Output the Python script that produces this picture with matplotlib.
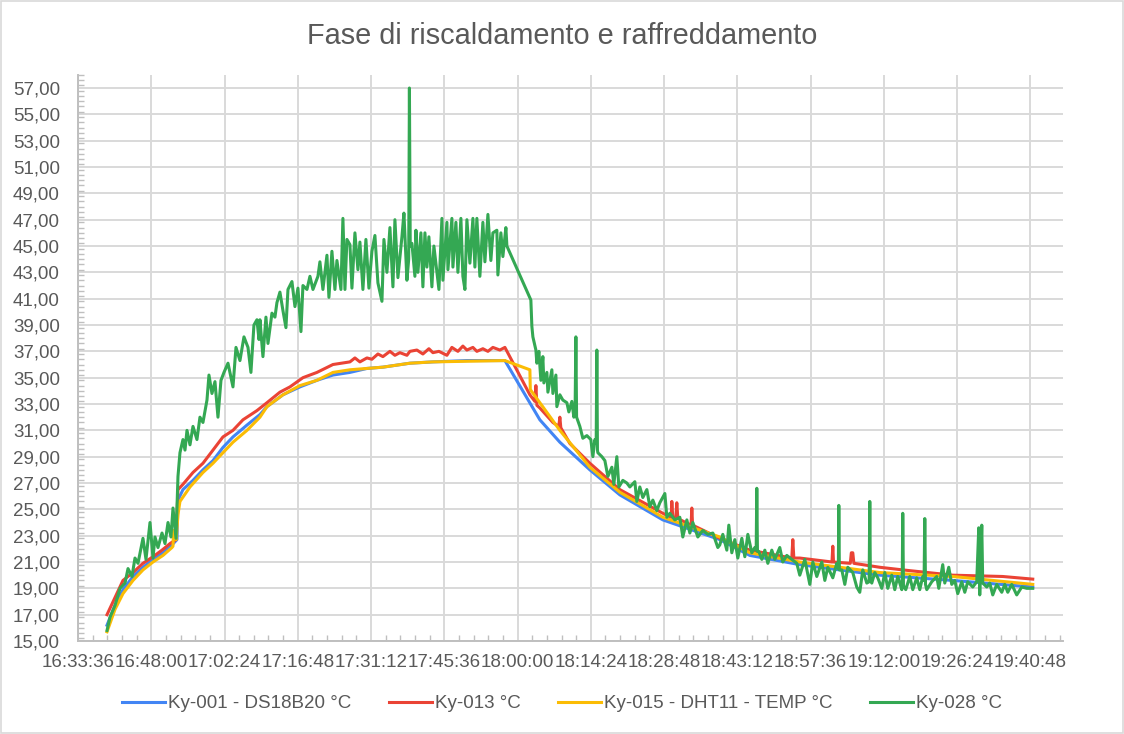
#Line chart of heating and cooling phase for four temperature sensors.
import matplotlib
matplotlib.use("Agg")
import matplotlib.pyplot as plt
from matplotlib.ticker import MultipleLocator, FuncFormatter
from matplotlib.patches import Rectangle

plt.rcParams['font.family'] = ['Liberation Sans', 'DejaVu Sans']

#Start of the x axis (16:33:36) in seconds after midnight.
START_S = 16 * 3600 + 33 * 60 + 36

#Series names.
names = ["Ky-001 - DS18B20 °C", "Ky-013 °C", "Ky-015 - DHT11 - TEMP °C", "Ky-028 °C"]
colors = ["#4285F4", "#EA4335", "#FBBC04", "#34A853"]

#Times are minutes after 16:33:36, values are °C.
t_blue = [5.70, 7.27, 8.84, 10.81, 12.77, 14.74, 16.70, 18.47, 19.45, 19.65, 20.63, 22.60,
          24.56, 26.53, 28.49, 30.46, 33.21, 35.76, 37.14, 40.28, 43.62, 46.96, 50.11, 53.45,
          56.79, 59.93, 65.24, 69.76, 76.44, 83.91, 90.78, 94.71, 100.61, 106.50, 114.95,
          126.15, 132.05, 141.87, 157.59, 171.94, 187.66]
v_blue = [16.2, 17.7, 18.9, 19.9, 20.6, 21.2, 21.7, 22.3, 22.7, 25.7, 26.5, 27.2,
          28.0, 28.7, 29.7, 30.5, 31.4, 32.2, 32.8, 33.7, 34.3, 34.8, 35.2, 35.4,
          35.7, 35.8, 36.1, 36.2, 36.3, 36.3, 31.8, 30.1, 28.0, 26.1, 24.2,
          22.7, 21.5, 20.8, 20.0, 19.6, 19.1]

t_red = [5.70, 7.27, 8.84, 10.81, 12.77, 14.74, 16.51, 18.08, 19.26, 19.65, 20.63, 22.60,
         24.56, 26.53, 28.49, 30.46, 32.42, 35.17, 37.14, 39.69, 41.66, 44.21, 46.96, 50.11,
         53.45, 54.43, 55.41, 56.79, 57.77, 58.95, 59.93, 61.31, 62.29, 63.27, 64.65, 65.24,
         66.61, 67.79, 68.97, 69.76, 70.94, 72.51, 73.49, 74.67, 75.65, 76.44, 77.62, 78.40,
         79.58, 80.57, 81.55, 82.92, 83.91,
         88.82, 89.80, 90.00, 90.20, 90.78, 93.34, 94.50, 94.71, 94.90, 96.68, 100.61, 106.50,
         114.95, 116.60, 116.72, 116.90, 117.50, 117.70, 117.90, 120.50, 120.65, 120.80,
         126.15, 132.05, 140.30, 140.50, 140.70, 141.87, 148.20, 148.36, 148.50, 151.80,
         152.00, 152.29, 152.50, 157.59, 162.11, 171.94, 181.76, 187.66]
v_red = [17.0, 18.3, 19.6, 20.2, 20.9, 21.4, 21.9, 22.4, 22.7, 26.5, 26.9, 27.8,
         28.5, 29.5, 30.5, 31.0, 31.8, 32.5, 33.1, 33.9, 34.3, 35.0, 35.4, 36.0,
         36.2, 36.5, 36.2, 36.5, 36.4, 36.8, 36.6, 37.0, 36.7, 36.9, 36.7, 37.0,
         37.1, 36.8, 37.2, 36.9, 37.0, 36.7, 37.3, 37.0, 37.4, 37.1, 37.3, 37.0,
         37.2, 37.0, 37.3, 37.1, 37.3,
         33.7, 33.2, 34.4, 32.9, 32.7, 31.6, 31.3, 32.0, 31.2, 30.0, 28.5, 26.5,
         24.7, 24.4, 25.6, 24.4, 24.4, 25.5, 24.3, 23.8, 25.1, 23.8,
         22.8, 21.9, 21.3, 22.7, 21.3, 21.3, 21.0, 22.2, 21.0, 20.9,
         21.7, 21.7, 20.9, 20.6, 20.4, 20.0, 19.9, 19.7]

t_yellow = [5.70, 7.27, 8.84, 10.81, 12.77, 14.74, 16.70, 18.47, 18.67, 18.80, 19.30, 19.65,
            20.04, 22.01, 24.56, 26.53, 28.49, 30.46, 33.21, 35.76, 37.14, 40.28, 43.62,
            46.96, 50.11, 53.45, 59.93, 65.24, 69.76, 83.91, 88.82, 88.90, 90.78, 94.71,
            100.61, 106.50, 114.95, 126.15, 132.05, 141.87, 157.59, 171.94, 187.66]
v_yellow = [15.7, 17.4, 18.6, 19.6, 20.4, 21.0, 21.5, 22.1, 22.2, 23.4, 22.7, 24.6,
            25.6, 26.7, 27.8, 28.5, 29.3, 30.1, 31.0, 32.0, 32.8, 33.7, 34.4,
            34.8, 35.4, 35.6, 35.8, 36.1, 36.2, 36.3, 35.6, 34.1, 33.1, 31.0,
            28.2, 26.3, 24.4, 22.9, 21.7, 21.0, 20.2, 19.9, 19.3]

t_green = [5.70, 6.29, 7.27, 8.25, 9.24, 9.83, 10.61, 11.20, 11.79, 12.77, 13.36, 14.15,
           14.74, 15.13, 15.72, 16.51, 17.10, 17.69, 18.27, 18.67, 19.26, 19.65, 20.04, 20.63,
           21.03, 21.42, 22.01, 22.60, 23.38, 23.97, 24.56, 25.35, 25.74, 26.33, 26.92, 27.51,
           28.10, 28.69, 29.48, 30.46, 31.05, 31.83, 32.62, 33.41, 33.99, 34.58, 35.17, 35.57,
           35.76, 36.35, 36.94, 37.34, 38.12, 38.71, 39.10, 39.69, 40.28, 40.87, 41.27, 42.05,
           42.64, 43.23, 43.82, 44.21, 45.00, 45.59, 46.18, 47.16, 47.55, 48.14, 48.93, 49.32,
           49.91, 50.50, 50.89, 51.68, 52.07, 52.47, 52.86, 53.45, 53.84, 54.43, 55.02, 55.41,
           56.00, 56.59, 57.18, 57.77, 58.36, 58.95, 59.74, 60.13, 60.72, 61.31, 61.90, 62.29,
           62.88, 63.67, 64.06, 64.65, 65.00, 65.14, 65.30, 65.63, 66.22, 66.42, 66.81, 67.40,
           67.79, 68.19, 68.58, 68.97, 69.56, 69.95, 70.54, 70.94, 71.53, 71.72, 72.51, 72.71,
           73.49, 73.69, 74.28, 74.67, 75.26, 75.65, 76.05, 76.44, 77.03, 77.62, 78.01, 78.40,
           78.99, 79.58, 79.98, 80.57, 81.15, 81.55, 82.33, 82.53, 83.12, 83.51, 84.10, 84.30,
           89.01, 89.21, 89.41, 90.00, 90.19, 90.59, 90.98, 91.37, 91.57, 92.16, 92.36, 93.14,
           93.34, 93.93, 94.12, 94.71, 95.30, 96.09, 96.48, 97.07, 97.46, 97.70, 97.86, 98.00,
           98.64, 99.23, 100.02, 100.80, 101.20, 101.59, 101.85, 101.98, 102.10, 102.18, 102.97,
           103.56, 104.15, 104.93, 105.32, 105.91, 106.31, 107.09, 107.88, 108.47, 109.45,
           109.84, 110.43, 111.02, 111.81, 112.40, 112.99, 113.77, 114.36, 115.35, 115.74,
           116.33, 117.31, 118.29, 118.88, 119.67, 120.26, 120.85, 121.83, 122.81, 123.80,
           124.78, 125.76, 126.15, 126.74, 127.53, 127.92, 128.51, 129.10, 129.69, 130.48,
           131.07, 131.66, 132.44, 133.03, 133.30, 133.42, 133.55, 133.82, 134.41, 135.00,
           135.59, 136.37, 136.96, 137.94, 138.53, 139.32, 140.30, 141.28, 141.87, 142.86,
           143.84, 144.43, 145.21, 146.20, 146.79, 147.38, 148.36, 149.14, 149.45, 149.54,
           149.65, 150.13, 150.72, 151.31, 152.29, 153.07, 153.66, 154.25, 155.04, 155.50,
           155.63, 155.75, 156.02, 156.61, 157.20, 157.99, 158.58, 159.17, 159.95, 160.54,
           161.13, 161.92, 162.00, 162.11, 162.25, 162.70, 163.49, 164.08, 164.86, 165.45,
           166.04, 166.30, 166.44, 166.58, 166.83, 167.81, 168.79, 169.19, 169.97, 170.37,
           171.15, 171.74, 172.33, 172.92, 173.71, 174.30, 174.89, 175.87, 176.65, 177.05,
           177.24, 177.64, 177.83, 178.62, 179.21, 179.80, 180.58, 181.57, 182.16, 182.75,
           183.53, 184.51, 185.50, 186.48, 187.66]
v_green = [15.8, 16.8, 17.7, 19.0, 19.4, 20.5, 19.9, 21.3, 20.9, 22.8, 21.2, 24.0,
           21.3, 22.9, 22.1, 23.2, 22.4, 24.0, 22.9, 25.1, 22.8, 27.5, 29.3, 30.3,
           29.5, 31.0, 29.9, 31.3, 30.3, 32.0, 31.6, 33.3, 35.2, 33.8, 34.7, 32.0,
           34.8, 35.4, 36.1, 34.3, 37.3, 36.3, 38.1, 37.3, 35.4, 39.0, 39.4, 37.9,
           39.4, 36.6, 39.6, 37.6, 39.9, 39.6, 40.7, 41.5, 40.1, 38.8, 41.7, 42.3,
           40.4, 41.8, 38.5, 42.0, 41.7, 42.7, 41.7, 42.7, 43.8, 41.7, 44.3, 41.1,
           44.6, 41.7, 43.9, 41.7, 47.1, 41.7, 45.5, 45.1, 41.8, 46.0, 43.2, 45.3,
           41.7, 45.5, 41.8, 44.6, 45.8, 42.2, 40.8, 45.5, 43.0, 46.4, 41.9, 47.0,
           42.6, 45.7, 47.5, 42.4, 44.0, 57.0, 45.0, 45.2, 42.7, 46.2, 43.0, 46.0,
           41.9, 46.0, 43.4, 45.7, 41.9, 45.0, 43.0, 41.7, 47.1, 42.4, 46.8, 43.2,
           47.1, 43.4, 46.8, 43.0, 47.1, 42.7, 41.7, 47.0, 43.7, 47.1, 43.4, 47.1,
           42.7, 46.8, 43.8, 47.4, 43.9, 46.0, 46.2, 42.8, 46.0, 44.2, 46.4, 45.0,
           40.9, 38.9, 38.1, 37.1, 36.1, 37.0, 34.8, 36.6, 34.6, 35.4, 33.9, 35.6,
           33.8, 35.2, 32.8, 33.7, 33.3, 33.1, 32.4, 33.2, 32.0, 32.3, 38.1, 32.0,
           31.3, 30.4, 30.6, 30.3, 29.0, 30.3, 30.0, 37.1, 29.5, 29.3, 29.0,
           28.7, 27.5, 28.2, 26.9, 29.0, 26.7, 27.2, 27.0, 26.7, 27.1,
           25.6, 26.7, 25.9, 26.5, 25.2, 25.7, 24.9, 25.5, 26.2, 24.4,
           24.7, 24.2, 24.4, 22.9, 24.2, 23.2, 24.0, 22.9, 23.4, 23.1,
           23.2, 22.1, 22.3, 23.1, 21.9, 23.8, 21.7, 22.7, 21.3, 22.8,
           21.4, 23.1, 21.7, 22.1, 21.9, 26.6, 21.8, 21.8, 21.2, 21.9,
           20.9, 21.9, 21.2, 22.1, 21.0, 21.5, 21.2, 20.9, 20.0, 21.2,
           19.3, 21.0, 19.9, 21.0, 19.6, 20.6, 19.8, 20.9, 20.5, 25.3,
           20.4, 20.4, 19.3, 20.6, 20.2, 19.1, 18.7, 20.4, 19.4, 19.5,
           25.6, 19.6, 19.4, 20.2, 19.8, 19.0, 20.2, 19.0, 20.0, 18.9,
           19.9, 18.9, 19.3, 24.7, 19.2, 18.9, 19.9, 18.9, 19.8, 18.9,
           19.9, 19.6, 24.3, 19.3, 18.9, 19.5, 19.9, 19.0, 20.8, 19.4,
           20.6, 19.3, 19.6, 18.6, 19.5, 18.7, 19.5, 19.1, 19.5, 23.6,
           18.5, 23.8, 19.4, 19.1, 19.4, 18.5, 19.3, 18.7, 19.3, 18.7,
           19.3, 18.5, 19.1, 19.0, 19.0]

#Axis settings.
x_step = 14.4    #minutes between labels (14:24)
x_max = 193.6
y_min, y_max = 15, 58

def time_label(m, pos):
    s = int(round(START_S + m * 60))
    return "%02d:%02d:%02d" % (s // 3600, (s % 3600) // 60, s % 60)

def value_label(v, pos):
    return ("%.2f" % v).replace(".", ",")

fig = plt.figure(figsize=(11.24, 7.34), dpi=100)
ax = fig.add_axes([0.0694, 0.1267, 0.8763, 0.7713])

series = [(t_blue, v_blue), (t_red, v_red), (t_yellow, v_yellow), (t_green, v_green)]
for (t, v), name, c in zip(series, names, colors):
    ax.plot(t, v, color=c, linewidth=2.2, label=name, solid_joinstyle="round")

ax.set_xlim(0, x_max)
ax.set_ylim(y_min, y_max)
ax.xaxis.set_major_locator(MultipleLocator(x_step))
ax.xaxis.set_minor_locator(MultipleLocator(x_step / 5))
ax.yaxis.set_minor_locator(MultipleLocator(0.4))
ax.set_yticks([y for y in range(15, 58, 2)])
ax.xaxis.set_major_formatter(FuncFormatter(time_label))
ax.yaxis.set_major_formatter(FuncFormatter(value_label))

ax.grid(True, which="major", color="#D9D9D9", linewidth=1.4)
ax.set_axisbelow(True)
for side in ["top", "right"]:
    ax.spines[side].set_visible(False)
for side in ["left", "bottom"]:
    ax.spines[side].set_color("#BFBFBF")
    ax.spines[side].set_linewidth(1.4)

ax.tick_params(which="major", length=0, labelsize=13.5, labelcolor="#595959")
ax.tick_params(axis="x", which="major", pad=9)
ax.tick_params(axis="y", which="major", pad=13)
ax.tick_params(which="minor", direction="in", length=4, color="#BFBFBF", width=1)

#Title and legend.
fig.text(0.5, 0.951, "Fase di riscaldamento e raffreddamento", ha="center", va="center",
         fontsize=20.8, color="#595959")
fig.legend(loc="center", bbox_to_anchor=(0.5, 0.041), ncol=4, frameon=False,
           fontsize=13.5, labelcolor="#595959", handlelength=2.3, handletextpad=0.15,
           columnspacing=2.0)

#Chart border.
fig.patches.append(Rectangle((0.0005, 0.0007), 0.999, 0.9986, transform=fig.transFigure,
                             fill=False, edgecolor="#D9D9D9", linewidth=1.2))

fig.savefig("out.png", dpi=100)
